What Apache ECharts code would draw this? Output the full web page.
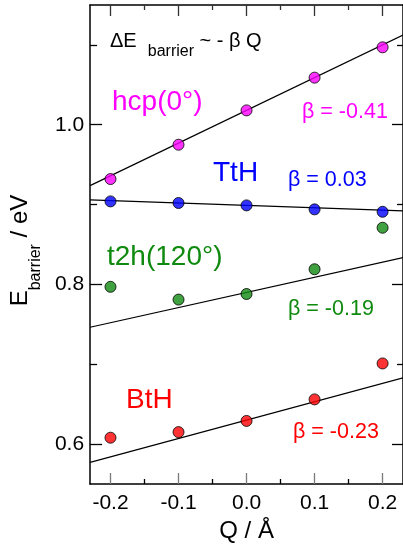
<!DOCTYPE html>
<html>
<head>
<meta charset="utf-8">
<script src="https://cdn.jsdelivr.net/npm/echarts@6/dist/echarts.min.js"></script>
<style>
  html, body { margin: 0; padding: 0; background: #fff; }
  #chart { width: 403px; height: 549px; }
</style>
</head>
<body>
<div id="chart"></div>
<script>
// Charge displacement Q (Å) for each computed configuration
const qValues = [-0.2, -0.1, 0.0, 0.1, 0.2];

// Barrier energies (eV) per site
const hcpBarrier = [0.932, 0.975, 1.018, 1.059, 1.097];
const tthBarrier = [0.904, 0.902, 0.899, 0.894, 0.891];
const t2hBarrier = [0.797, 0.781, 0.788, 0.819, 0.871];
const bthBarrier = [0.608, 0.615, 0.629, 0.656, 0.701];

// Linear fits E = E0 - beta * Q
const fitBeta = [-0.41, 0.03, -0.19, -0.23];
const fitE0 = [1.018, 0.899, 0.790, 0.630];

// Axis ticks
const qRange = [-0.23, 0.23];
const eRange = [0.55, 1.15];
const qMajorTicks = [-0.2, -0.1, 0.0, 0.1, 0.2];
const qMinorTicks = [-0.15, -0.05, 0.05, 0.15];
const eMajorTicks = [0.6, 0.8, 1.0];
const eMinorTicks = [0.7, 0.9, 1.1];

const FONT = "'Liberation Sans', Arial, Helvetica, sans-serif";
const colors = ['#ff00ff', '#0000ff', '#0f8a0f', '#ff0000'];
const barrierSets = [hcpBarrier, tthBarrier, t2hBarrier, bthBarrier];

const chart = echarts.init(document.getElementById('chart'), null, { renderer: 'canvas' });

function pairs(ys) { return qValues.map((q, i) => [q, ys[i]]); }
function fitLine(k) {
  return qRange.map(q => [q, fitE0[k] - fitBeta[k] * q]);
}

const grid = { left: 88, top: 5, width: 318, height: 479, containLabel: false };

function xAxisDef(pos, ticks, len, color, showLabel, showLine, extra) {
  return Object.assign({
    type: 'value', position: pos, min: qRange[0], max: qRange[1],
    axisLine: { show: showLine, onZero: false, lineStyle: { color: '#000', width: 1.5 } },
    axisTick: { show: true, inside: true, length: len, customValues: ticks, lineStyle: { color: color, width: 1.3 } },
    axisLabel: { show: showLabel, customValues: ticks, margin: 9, color: '#000', fontSize: 21, fontFamily: FONT,
      formatter: v => v.toFixed(1) },
    splitLine: { show: false }
  }, extra || {});
}
function yAxisDef(pos, ticks, len, showLabel, showLine, extra) {
  return Object.assign({
    type: 'value', position: pos, min: eRange[0], max: eRange[1],
    axisLine: { show: showLine, onZero: false, lineStyle: { color: '#000', width: 1.5 } },
    axisTick: { show: true, inside: true, length: len, customValues: ticks, lineStyle: { color: '#000', width: 1.3 } },
    axisLabel: { show: showLabel, customValues: ticks, margin: 6, color: '#000', fontSize: 21, fontFamily: FONT,
      formatter: v => v.toFixed(1) },
    splitLine: { show: false }
  }, extra || {});
}

const series = [];
barrierSets.forEach((set, k) => {
  series.push({
    type: 'line', data: fitLine(k), showSymbol: false, symbol: 'none', silent: true,
    lineStyle: { color: '#000', width: 1.2 }, z: 2
  });
});
barrierSets.forEach((set, k) => {
  series.push({
    type: 'scatter', data: pairs(set), symbol: 'circle', symbolSize: 11,
    itemStyle: { color: colors[k], borderColor: '#000', borderWidth: 1 }, z: 3
  });
});

function note(text, x, y, color, size) {
  return { type: 'text', x: x, y: y, z: 10,
    style: { text: text, fill: color, fontSize: size, fontFamily: FONT, textVerticalAlign: 'middle' } };
}

// Main text sits in the middle of a tall line; the subscript is pinned to the line bottom.
function subscriptRich(mainSize, subSize, lineH) {
  return {
    m: { fontSize: mainSize, fontFamily: FONT, fontWeight: 'normal', color: '#000', lineHeight: lineH },
    s: { fontSize: subSize, fontFamily: FONT, fontWeight: 'normal', color: '#000', verticalAlign: 'bottom' }
  };
}

const option = {
  animation: false,
  backgroundColor: '#fff',
  title: {
    text: '{m|ΔE  }{s|barrier}{m| ~ - β Q}',
    left: 110, top: 22, padding: 0,
    textStyle: { fontWeight: 'normal', rich: subscriptRich(20, 16, 38) }
  },
  grid: grid,
  xAxis: [
    xAxisDef('bottom', qMajorTicks, 11, '#7a7a7a', true, true, {
      name: 'Q / Å', nameLocation: 'middle', nameGap: 35,
      nameTextStyle: { fontSize: 24, fontFamily: FONT, color: '#000' }
    }),
    xAxisDef('bottom', qMinorTicks, 5, '#000', false, false),
    xAxisDef('top', qMajorTicks, 11, '#333', false, true),
    xAxisDef('top', qMinorTicks, 5, '#333', false, false)
  ],
  yAxis: [
    yAxisDef('left', eMajorTicks, 12, true, true, {
      name: '{m|E}{s|barrier}{m| / eV}', nameLocation: 'middle', nameRotate: 90, nameGap: 32,
      nameTextStyle: { padding: [0, 12, 0, 0], rich: subscriptRich(24, 16, 48) }
    }),
    yAxisDef('left', eMinorTicks, 7, false, false),
    yAxisDef('right', eMajorTicks, 11, false, true),
    yAxisDef('right', eMinorTicks, 6, false, false)
  ],
  series: series,
  graphic: [
    note('hcp(0°)', 112, 102, colors[0], 28),
    note('TtH', 213, 173, colors[1], 28),
    note('t2h(120°)', 107, 257, colors[2], 28),
    note('BtH', 126, 400, colors[3], 28),
    note('β = -0.41', 302, 112, colors[0], 21.5),
    note('β = 0.03', 288, 180, colors[1], 21.5),
    note('β = -0.19', 288, 309, colors[2], 21.5),
    note('β = -0.23', 293, 432, colors[3], 21.5)
  ]
};

// Secondary axes only carry tick marks; every series is plotted on the primary pair.
chart.setOption(option);
</script>
</body>
</html>
